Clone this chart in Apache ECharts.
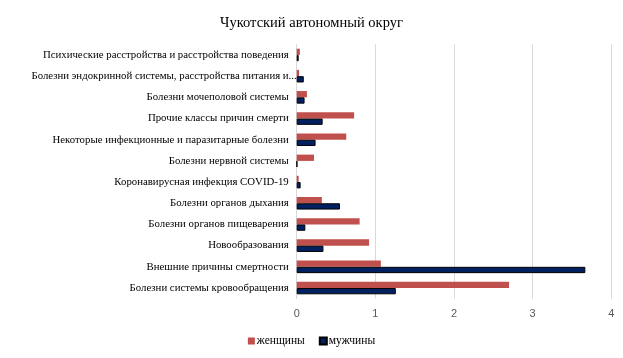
<!DOCTYPE html>
<html><head><meta charset="utf-8">
<script src="https://cdn.jsdelivr.net/npm/echarts@6/dist/echarts.min.js"></script>
<style>html,body{margin:0;padding:0;background:#fff}#c{width:623px;height:358px}</style>
</head><body><div id="c"></div>
<script>
const categories = [
  "Болезни системы кровообращения",
  "Внешние причины смертности",
  "Новообразования",
  "Болезни органов пищеварения",
  "Болезни органов дыхания",
  "Коронавирусная инфекция COVID-19",
  "Болезни нервной системы",
  "Некоторые инфекционные и паразитарные болезни",
  "Прочие классы причин смерти",
  "Болезни мочеполовой системы",
  "Болезни эндокринной системы, расстройства питания и...",
  "Психические расстройства и расстройства поведения"
];
const women = [2.70, 1.07, 0.92, 0.80, 0.32, 0.025, 0.22, 0.63, 0.73, 0.13, 0.03, 0.04];
const men   = [1.26, 3.67, 0.34, 0.11, 0.55, 0.05, 0.005, 0.24, 0.33, 0.10, 0.09, 0.025];
const xTicks = [0, 1, 2, 3, 4];
const title = "Чукотский автономный округ";
const seriesNames = ["женщины", "мужчины"];

const chart = echarts.init(document.getElementById('c'), null, {renderer: 'canvas'});
chart.setOption({
  animation: false,
  backgroundColor: '#fff',
  title: {
    text: title, left: 'center', top: 11,
    textStyle: {fontFamily: 'Liberation Serif', fontSize: 14.5, fontWeight: 'normal', color: '#000'}
  },
  legend: {
    bottom: 6, left: 'center', itemWidth: 7, itemHeight: 7, itemGap: 14,
    icon: 'rect',
    textStyle: {fontFamily: 'Liberation Serif', fontSize: 11.5, color: '#000', padding: [0,0,0,-3]},
    data: seriesNames
  },
  grid: {left: 296.7, right: 11.7, top: 44.4, bottom: 59.4, containLabel: false},
  xAxis: {
    type: 'value', min: xTicks[0], max: xTicks[xTicks.length-1], interval: 1,
    axisLine: {show: false}, axisTick: {show: false},
    splitLine: {lineStyle: {color: '#d9d9d9', width: 1}},
    axisLabel: {fontFamily: 'Liberation Sans', fontSize: 11, color: '#595959', margin: 10}
  },
  yAxis: {
    type: 'category', data: categories,
    axisLine: {lineStyle: {color: '#d9d9d9'}}, axisTick: {show: false},
    axisLabel: {fontFamily: 'Liberation Serif', fontSize: 10.8, color: '#000', margin: 8,
      formatter: v => v.endsWith('...') ? '{e|' + v + '}' : v,
      rich: {e: {fontFamily: 'Liberation Serif', fontSize: 10.8, color: '#000', padding: [0, -8, 0, 0]}}
    }
  },
  series: [
    {name: seriesNames[0], type: 'bar', data: women, barWidth: 6.3, barGap: '0%',
     itemStyle: {color: '#C0504D'}},
    {name: seriesNames[1], type: 'bar', data: men, barWidth: 6.3, barGap: '0%',
     itemStyle: {color: '#002060', borderColor: '#000', borderWidth: 1}}
  ]
});
</script></body></html>
